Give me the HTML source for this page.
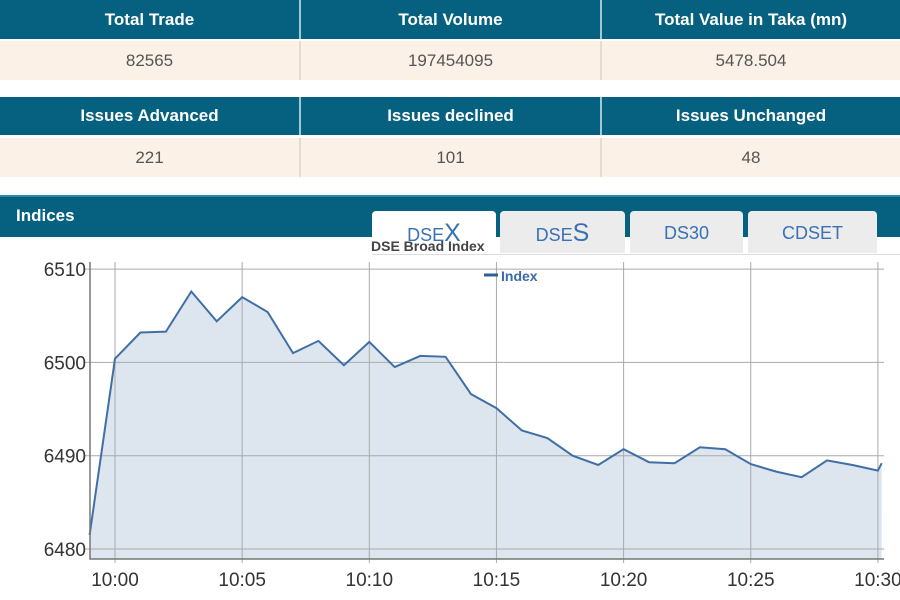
<!DOCTYPE html>
<html><head><meta charset="utf-8"><style>
body{margin:0;width:900px;height:600px;overflow:hidden;background:#fff;font-family:"Liberation Sans",sans-serif;position:relative}
.row{position:absolute;left:0;width:900px;display:flex}
.c{flex:none;display:flex;align-items:center;justify-content:center;box-sizing:border-box}
.h .c{background:#05617f;color:#fff;font-weight:bold;font-size:17px;border-right:2px solid #9cc9d6}
.v .c{background:#fcf1e7;color:#555;font-size:17px;border-right:2px solid #e3dccf}
.c1{width:301px}.c2{width:301px}.c3{width:298px;border-right:none!important}
.tab{position:absolute;top:211px;height:42px;background:#ececec;border-radius:4px 4px 0 0;color:#3a70b4;font-size:18px;text-align:center;line-height:44px;box-sizing:border-box}
</style></head><body>
<div class="row h" style="top:0;height:39px"><div class="c c1">Total Trade</div><div class="c c2">Total Volume</div><div class="c c3">Total Value in Taka (mn)</div></div>
<div class="row v" style="top:41px;height:39px"><div class="c c1">82565</div><div class="c c2">197454095</div><div class="c c3">5478.504</div></div>
<div class="row h" style="top:97px;height:38px"><div class="c c1">Issues Advanced</div><div class="c c2">Issues declined</div><div class="c c3">Issues Unchanged</div></div>
<div class="row v" style="top:138px;height:39px"><div class="c c1">221</div><div class="c c2">101</div><div class="c c3">48</div></div>
<div style="position:absolute;top:195px;left:0;width:900px;height:42px;background:#05617f;border-top:2px solid #2c8aa6;box-sizing:border-box"><span style="position:absolute;left:16px;top:9px;color:#fff;font-weight:bold;font-size:17px">Indices</span></div>
<div class="tab" style="left:372px;width:124px;background:#fff">DSE<span style="font-size:25px">X</span></div>
<div class="tab" style="left:500px;width:125px">DSE<span style="font-size:25px">S</span></div>
<div class="tab" style="left:630px;width:113px">DS30</div>
<div class="tab" style="left:748px;width:129px">CDSET</div>
<div style="position:absolute;top:254px;left:372px;width:528px;height:1px;background:#ddd"></div>
<div style="position:absolute;top:238px;left:371px;font-size:14px;font-weight:bold;color:#444;padding-right:2px">DSE Broad Index</div>
<svg id="ch" width="900" height="600" style="position:absolute;left:0;top:0"></svg>
<script>
const minutes=[-1,0,1,2,3,4,5,6,7,8,9,10,11,12,13,14,15,16,17,18,19,20,21,22,23,24,25,26,27,28,29,30,30.15];
const values=[6481.5,6500.4,6503.2,6503.3,6507.6,6504.4,6507,6505.4,6501,6502.3,6499.7,6502.2,6499.5,6500.7,6500.6,6496.6,6495.1,6492.7,6491.9,6490,6489,6490.7,6489.3,6489.2,6490.9,6490.7,6489.1,6488.3,6487.7,6489.5,6489,6488.4,6489.2];
const yTicks=[6480,6490,6500,6510];
const xTicks=[0,5,10,15,20,25,30];
const xLabels=["10:00","10:05","10:10","10:15","10:20","10:25","10:30"];
const X=m=>115+m*25.43, Y=v=>549-(v-6480)*9.33;
const L=90,R=884,T=262,B=559;
const s=document.getElementById('ch'),NS='http://www.w3.org/2000/svg';
function mk(t,a,p){const e=document.createElementNS(NS,t);for(const k in a)e.setAttribute(k,a[k]);(p||s).appendChild(e);return e;}
yTicks.forEach((v,i)=>{const g=mk('line',{x1:L-6,x2:R,y1:Y(v),y2:Y(v),stroke:'#aaa','stroke-width':1});


const t=mk('text',{x:L-4,y:Y(v)+7,'text-anchor':'end','font-size':19,fill:'#333','font-family':'Liberation Sans, sans-serif'});t.textContent=v;

});
xTicks.forEach((m,i)=>{const g=mk('line',{x1:X(m),x2:X(m),y1:T,y2:B+4,stroke:'#aaa','stroke-width':1});


const t=mk('text',{x:X(m),y:B+27,'text-anchor':'middle','font-size':19,fill:'#333','font-family':'Liberation Sans, sans-serif'});t.textContent=xLabels[i];

});
let d=minutes.map((m,i)=>(i?'L':'M')+X(m).toFixed(1)+' '+Y(values[i]).toFixed(1)).join(' ');
const area=mk('path',{d:d+` L${X(minutes[minutes.length-1])} ${B} L${X(minutes[0])} ${B} Z`,fill:'#dde5ef'});


s.insertBefore(area,s.firstChild);
const ln=mk('path',{d:d,fill:'none',stroke:'#3f6fa5','stroke-width':2});


const ax=mk('path',{d:`M${L} ${T} L${L} ${B} L${R} ${B}`,fill:'none',stroke:'#777','stroke-width':1.5});


const lg=mk('line',{x1:484,x2:498,y1:275,y2:275,stroke:'#2d5f9a','stroke-width':3});


const lt=mk('text',{x:501,y:281,'font-size':14,'font-weight':'bold',fill:'#3a6aa8','font-family':'Liberation Sans, sans-serif'});lt.textContent='Index';


</script>
</body></html>
